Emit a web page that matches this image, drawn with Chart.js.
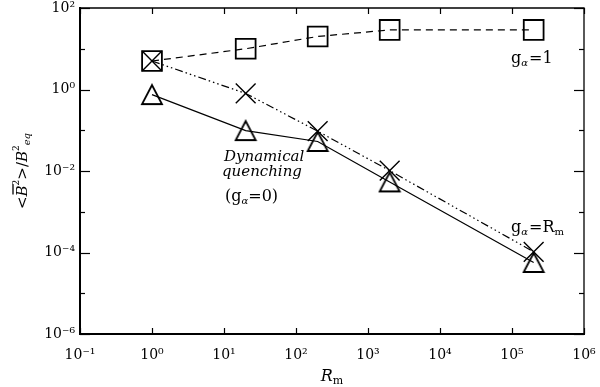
<!DOCTYPE html>
<html><head><meta charset="utf-8">
<script src="https://cdn.jsdelivr.net/npm/chart.js@4/dist/chart.umd.min.js"></script>
<style>html,body{margin:0;padding:0;background:#fff}#wrap{width:600px;height:387px}</style>
</head><body><div id="wrap"><canvas id="c" width="600" height="387"></canvas></div>
<script>
// ---- data ----
const rmValues = [1, 20, 200, 2000, 200000];
const energyGalpha1 = [5, 10, 20, 29, 29];
const energyGalphaRm = [5, 0.8, 0.095, 0.0102, 0.000104];
const energyDynamical = [0.75, 0.098, 0.053, 0.0054, 0.000057];
const xTickExponents = [-1, 0, 1, 2, 3, 4, 5, 6];
const yTickExponents = [-6, -5, -4, -3, -2, -1, 0, 1, 2];
const yLabelledExponents = [-6, -4, -2, 0, 2];

const SUP = {'-':'\u207B','0':'\u2070','1':'\u00B9','2':'\u00B2','3':'\u00B3','4':'\u2074','5':'\u2075','6':'\u2076','7':'\u2077','8':'\u2078','9':'\u2079'};
const sup = n => String(n).split('').map(c => SUP[c]).join('');
const expOf = v => Math.round(Math.log10(v));

function pts(xs, ys){ return xs.map((x,i)=>({x:x, y:ys[i]})); }

// triangle marker whose bounding box is centred on the point
function makeTriangle(){
  const c = document.createElement('canvas'); c.width = 24; c.height = 23;
  const g = c.getContext('2d'); g.strokeStyle = '#000'; g.lineWidth = 1.8;
  g.beginPath(); g.moveTo(12, 2); g.lineTo(2, 21); g.lineTo(22, 21); g.closePath(); g.stroke();
  return c;
}

const serif = '"DejaVu Serif", serif';
function drawRich(ctx, x, y, parts, align){
  let w = 0;
  parts.forEach(p => { ctx.font = p.font; p.w = ctx.measureText(p.t).width; w += p.w + (p.gap||0); });
  let cx = align === 'center' ? x - w/2 : (align === 'right' ? x - w : x);
  parts.forEach(p => {
    ctx.font = p.font; ctx.fillText(p.t, cx, y + (p.dy||0));
    if (p.over) { ctx.beginPath(); ctx.lineWidth = 1.3; ctx.moveTo(cx + 2, y - 14); ctx.lineTo(cx + p.w + 1, y - 14); ctx.stroke(); }
    cx += p.w + (p.gap||0);
  });
}

const overlay = {
  id: 'overlay',
  afterDraw(chart){
    const {ctx, chartArea: a, scales: {x, y}} = chart;
    ctx.save();
    ctx.strokeStyle = '#000'; ctx.fillStyle = '#000';
    ctx.lineWidth = 1.3;
    ctx.beginPath(); ctx.moveTo(a.left, a.top); ctx.lineTo(a.right, a.top); ctx.lineTo(a.right, a.bottom); ctx.stroke();
    ctx.lineWidth = 1.2;
    const seg = (x1,y1,x2,y2)=>{ ctx.beginPath(); ctx.moveTo(x1,y1); ctx.lineTo(x2,y2); ctx.stroke(); };
    x.ticks.forEach(t => { const px = Math.round(x.getPixelForValue(t.value)) + 0.5; seg(px, a.bottom, px, a.bottom - 6); seg(px, a.top, px, a.top + 6); });
    y.ticks.forEach(t => { const e = expOf(t.value); const len = (e % 2 === 0) ? 10 : 5; const py = Math.round(y.getPixelForValue(t.value)) + 0.5; seg(a.left, py, a.left + len, py); seg(a.right, py, a.right - len, py); });

    ctx.textBaseline = 'alphabetic';
    // x title
    drawRich(ctx, (a.left + a.right)/2, 381, [
      {t:'R', font:'italic 16px ' + serif},
      {t:'m', font:'11px ' + serif, dy:3}
    ], 'center');
    // y title (rotated)
    ctx.save();
    ctx.translate(27, (a.top + a.bottom)/2);
    ctx.rotate(-Math.PI/2);
    drawRich(ctx, 0, 0, [
      {t:'<', font:'15px ' + serif},
      {t:'B', font:'italic 15px ' + serif, over:true},
      {t:'2', font:'9px ' + serif, dy:-8},
      {t:'>', font:'15px ' + serif},
      {t:'/', font:'15px ' + serif},
      {t:'B', font:'italic 15px ' + serif},
      {t:'2', font:'9px ' + serif, dy:-8},
      {t:'eq', font:'italic 10px ' + serif, dy:3}
    ], 'center');
    ctx.restore();
    // annotations
    drawRich(ctx, 511, 63, [
      {t:'g', font:'16px ' + serif},
      {t:'\u03B1', font:'italic 10px ' + serif, dy:3, gap:1},
      {t:'=1', font:'16px ' + serif}
    ], 'left');
    drawRich(ctx, 511, 232, [
      {t:'g', font:'16px ' + serif},
      {t:'\u03B1', font:'italic 10px ' + serif, dy:3, gap:1},
      {t:'=R', font:'16px ' + serif},
      {t:'m', font:'10px ' + serif, dy:3}
    ], 'left');
    ctx.font = 'italic 15px ' + serif;
    ctx.fillText('Dynamical', 224, 161);
    ctx.fillText('quenching', 222, 176);
    drawRich(ctx, 225, 201, [
      {t:'(g', font:'16px ' + serif},
      {t:'\u03B1', font:'italic 10px ' + serif, dy:3},
      {t:'=0)', font:'16px ' + serif}
    ], 'left');
    ctx.restore();
  }
};

const tri = makeTriangle();
new Chart(document.getElementById('c'), {
  type: 'scatter',
  data: {
    datasets: [
      { label: 'g_alpha=1', data: pts(rmValues, energyGalpha1), showLine: true,
        borderColor: '#000', borderWidth: 1.2, borderDash: [7, 5],
        pointStyle: 'rect', pointRadius: 14, pointBorderWidth: 1.8, pointBorderColor: '#000', pointBackgroundColor: 'rgba(0,0,0,0)' },
      { label: 'g_alpha=Rm', data: pts(rmValues, energyGalphaRm), showLine: true,
        borderColor: '#000', borderWidth: 1.2, borderDash: [8, 3, 1.5, 3, 1.5, 3, 1.5, 3],
        pointStyle: 'crossRot', pointRadius: 14, pointBorderWidth: 1.4, pointBorderColor: '#000', pointBackgroundColor: 'rgba(0,0,0,0)' },
      { label: 'dynamical', data: pts(rmValues, energyDynamical), showLine: true,
        borderColor: '#000', borderWidth: 1.2,
        pointStyle: tri, pointRadius: 12, pointBorderColor: '#000', pointBackgroundColor: 'rgba(0,0,0,0)' }
    ]
  },
  options: {
    responsive: false, animation: false, devicePixelRatio: 1,
    layout: { autoPadding: false, padding: { left: 0, right: 16, top: 8, bottom: 0 } },
    plugins: { legend: { display: false }, tooltip: { enabled: false } },
    scales: {
      x: {
        type: 'logarithmic', position: 'bottom', min: 0.1, max: 1e6,
        afterBuildTicks: s => { s.ticks = xTickExponents.map(e => ({ value: Math.pow(10, e) })); },
        afterFit: s => { s.height = 53; s.paddingLeft = 0; s.paddingRight = 0; },
        ticks: { callback: v => '10' + sup(expOf(v)), font: { family: 'DejaVu Serif', size: 14 }, color: '#000', maxRotation: 0, autoSkip: false, padding: 13 },
        grid: { display: false, drawTicks: false },
        border: { display: true, color: '#000', width: 2 }
      },
      y: {
        type: 'logarithmic', position: 'left', min: 1e-6, max: 1e2,
        afterBuildTicks: s => { s.ticks = yTickExponents.map(e => ({ value: Math.pow(10, e) })); },
        afterFit: s => { s.width = 80; s.paddingTop = 0; s.paddingBottom = 0; },
        ticks: { callback: v => yLabelledExponents.includes(expOf(v)) ? '10' + sup(expOf(v)) : '', font: { family: 'DejaVu Serif', size: 14 }, color: '#000', autoSkip: false, padding: 5 },
        grid: { display: false, drawTicks: false },
        border: { display: true, color: '#000', width: 2 }
      }
    }
  },
  plugins: [overlay]
});
</script></body></html>
